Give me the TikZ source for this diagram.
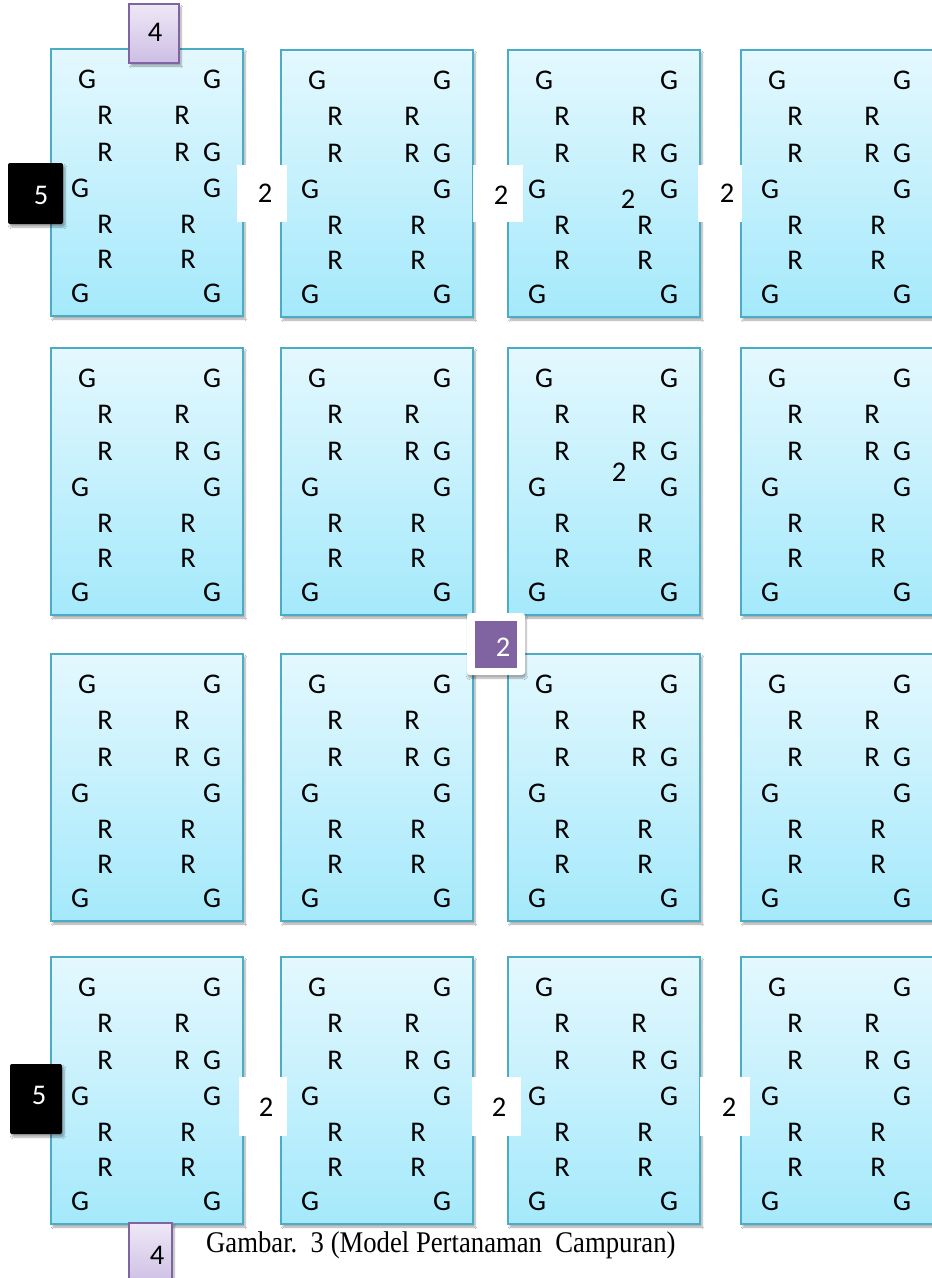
\documentclass[tikz,border=0pt]{standalone}
\usepackage{fontspec}
\setmainfont{Carlito}
\newfontfamily\capfont{Liberation Serif}
\usetikzlibrary{shadows.blur,calc}
\definecolor{boxtop}{RGB}{228,248,254}
\definecolor{boxbot}{RGB}{164,233,251}
\definecolor{boxline}{RGB}{75,172,198}
\definecolor{purpline}{RGB}{128,100,162}
\definecolor{purptop}{RGB}{238,232,246}
\definecolor{purpbot}{RGB}{205,190,228}
\tikzset{
  plotbox/.style={draw=boxline,line width=1.6pt,top color=boxtop,bottom color=boxbot,
    minimum width=192pt,minimum height=267pt,inner sep=0pt,
    blur shadow={shadow xshift=2pt,shadow yshift=-3pt,shadow blur steps=6,shadow opacity=35}},
  letter/.style={inner sep=0pt,font=\fontsize{28.5}{28.5}\selectfont},
  gapbox/.style={fill=white,inner sep=0pt},
  purpbox/.style={draw=purpline,line width=1.4pt,top color=purptop,bottom color=purpbot,inner sep=0pt,
    blur shadow={shadow xshift=2pt,shadow yshift=-3pt,shadow blur steps=6,shadow opacity=35}},
  blackbox/.style={fill=black,rounded corners=2pt,inner sep=0pt,
    blur shadow={shadow xshift=2pt,shadow yshift=-3pt,shadow blur steps=6,shadow opacity=35}},
  frame/.style={fill=white,rounded corners=3pt,inner sep=0pt,
    blur shadow={shadow xshift=1pt,shadow yshift=-3pt,shadow blur steps=6,shadow opacity=35}},
  whitetext/.style={letter,text=white},
}
\newcommand\plotunit[3]{%
  \node[plotbox] (#1) at (#2+96,#3+133.5) {};
  \foreach \dx/\dy/\t [count=\i] in {36/30/G,161/30/G,54/66/R,131/66/R,54/103/R,131/103/R,161/103/G,29/139/G,161/139/G,54/175/R,137/175/R,54/210/R,137/210/R,29/244/G,161/244/G}
    \node[letter] (#1-\i) at (#2+\dx,#3+\dy) {\t};
}
\begin{document}
\begin{tikzpicture}[x=1pt,y=-1pt]
\clip (0,0) rectangle (932,1278);
\fill[white] (0,0) rectangle (932,1278);
% plots
\plotunit{p11}{51}{49}
\plotunit{p12}{281}{50}
\plotunit{p13}{508}{50}
\plotunit{p14}{741}{50}
\plotunit{p21}{51}{348}
\plotunit{p22}{281}{348}
\plotunit{p23}{508}{348}
\plotunit{p24}{741}{348}
\plotunit{p31}{51}{654}
\plotunit{p32}{281}{654}
\plotunit{p33}{508}{654}
\plotunit{p34}{741}{654}
\plotunit{p41}{51}{957}
\plotunit{p42}{281}{957}
\plotunit{p43}{508}{957}
\plotunit{p44}{741}{957}
% inner distances
\node[letter] (in1) at (628,199) {2};
\node[letter] (in2) at (619,472) {2};
% gaps between plots, row 1
\node[gapbox,minimum width=50pt,minimum height=57pt] (g1) at (262,193.5) {};
\node[letter] (g1t) at (265,193) {2};
\node[gapbox,minimum width=50pt,minimum height=57pt] (g2) at (498,193.5) {};
\node[letter] (g2t) at (501,195) {2};
\node[gapbox,minimum width=44pt,minimum height=57pt] (g3) at (720,193.5) {};
\node[letter] (g3t) at (727,193) {2};
% gaps row 4
\node[gapbox,minimum width=48pt,minimum height=59pt] (g4) at (263,1106.5) {};
\node[letter] (g4t) at (266,1107) {2};
\node[gapbox,minimum width=49pt,minimum height=59pt] (g5) at (496.5,1106.5) {};
\node[letter] (g5t) at (499,1107) {2};
\node[gapbox,minimum width=50pt,minimum height=59pt] (g6) at (725,1106.5) {};
\node[letter] (g6t) at (729,1107) {2};
% row distance
\node[frame,minimum width=58pt,minimum height=62pt] (rf) at (496,644) {};
\node[fill=purpline,inner sep=0pt,minimum width=42pt,minimum height=47pt] (rp) at (496,644.5) {};
\node[whitetext] (rt) at (503,647) {2};
% border distances
\node[purpbox,minimum width=50pt,minimum height=59pt] (t4) at (154,33.5) {};
\node[letter] (t4t) at (155,32) {4};
\node[purpbox,minimum width=43pt,minimum height=62pt] (b4) at (150.5,1254) {};
\node[letter] (b4t) at (157,1255) {4};
\node[blackbox,minimum width=55pt,minimum height=61pt] (l5a) at (35.5,193.5) {};
\node[whitetext] (l5at) at (41,195) {5};
\node[blackbox,minimum width=52pt,minimum height=70pt] (l5b) at (36,1099) {};
\node[whitetext] (l5bt) at (39,1095) {5};
% caption
\node[anchor=base west,inner sep=0pt,font=\capfont\fontsize{30}{30}\selectfont] (cap) at (206,1252) {\scalebox{0.89}[1]{Gambar.\ \ 3 (Model Pertanaman\ \ Campuran)}};
\end{tikzpicture}
\end{document}
